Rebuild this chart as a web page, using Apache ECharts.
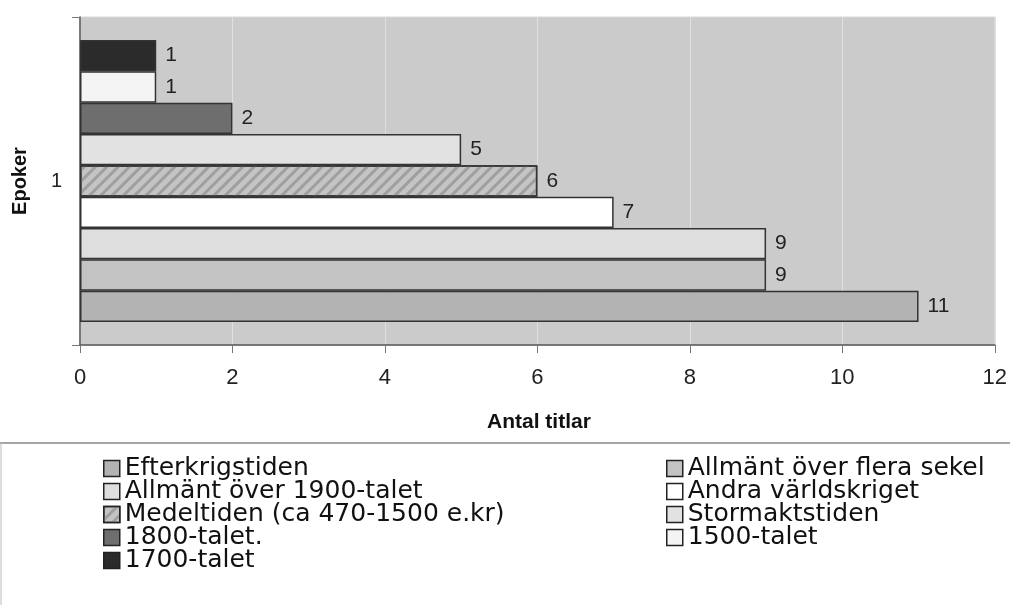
<!DOCTYPE html>
<html><head><meta charset="utf-8">
<script src="https://cdn.jsdelivr.net/npm/echarts@6/dist/echarts.min.js"></script>
<style>html,body{margin:0;padding:0;background:#fff}#c{width:1010px;height:605px}</style>
</head><body><div id="c"></div>
<script>
const categories = ['1'];
const seriesNames = ['Efterkrigstiden','Allmänt över flera sekel','Allmänt över 1900-talet','Andra världskriget','Medeltiden (ca 470-1500 e.kr)','Stormaktstiden','1800-talet.','1500-talet','1700-talet'];
const seriesValues = [11, 9, 9, 7, 6, 5, 2, 1, 1];
const seriesColors = ['#b3b3b3','#c3c3c3','#dedede','#ffffff','#c4c4c4','#e2e2e2','#6e6e6e','#f4f4f4','#2b2b2b'];
const xTicks = [0, 2, 4, 6, 8, 10, 12];
const legendLeft = ['Efterkrigstiden','Allmänt över 1900-talet','Medeltiden (ca 470-1500 e.kr)','1800-talet.','1700-talet'];
const legendRight = ['Allmänt över flera sekel','Andra världskriget','Stormaktstiden','1500-talet'];
const xAxisTitle = 'Antal titlar';

const chart = echarts.init(document.getElementById('c'));
const font = 'Liberation Sans, Arial, sans-serif';
const series = seriesNames.map((n, i) => ({
  name: n, type: 'bar', data: [seriesValues[i]],
  barGap: '0%', barCategoryGap: '14%',
  itemStyle: Object.assign({color: seriesColors[i], borderColor: '#333', borderWidth: 1.5},
    i === 4 ? {decal: {symbol: 'rect', dashArrayX: [1, 0], dashArrayY: [3, 5], rotation: -Math.PI / 4, color: 'rgba(150,150,150,0.8)'}} : {}),
  label: {show: true, position: 'right', distance: 9, fontFamily: font, fontSize: 21, color: '#222'}
})).reverse();
const legendCommon = {orient: 'vertical', icon: 'rect', itemWidth: 16, itemHeight: 16, itemGap: -2,
  textStyle: {fontFamily: 'DejaVu Sans, sans-serif', fontSize: 25, lineHeight: 23, color: '#111'},
  itemStyle: {borderColor: '#222', borderWidth: 1.5}, selectedMode: false};
chart.setOption({
  animation: false,
  grid: {left: 80, right: 13, top: 17, bottom: 260, backgroundColor: '#cbcbcb', show: true, borderColor: '#d8d8d8', borderWidth: 1},
  xAxis: {type: 'value', min: 0, max: 12, interval: 2,
    axisLine: {show: true, lineStyle: {color: '#555', width: 1.5}},
    axisTick: {show: true, length: 8, lineStyle: {color: '#777'}},
    axisLabel: {fontFamily: font, fontSize: 22, color: '#222', margin: 22,
      formatter: v => xTicks.includes(v) ? String(v) : ''},
    splitLine: {show: true, lineStyle: {color: '#e0e0e0', width: 1}}},
  yAxis: {type: 'category', data: categories,
    name: 'Epoker', nameLocation: 'middle', nameGap: 50, nameRotate: 90,
    nameTextStyle: {fontFamily: font, fontSize: 20, fontWeight: 'bold', color: '#111'},
    axisLine: {show: true, lineStyle: {color: '#555', width: 1.5}},
    axisTick: {show: true, length: 8, alignWithLabel: false, lineStyle: {color: '#777'}},
    axisLabel: {fontFamily: font, fontSize: 20, color: '#222', margin: 18}},
  legend: [
    Object.assign({}, legendCommon, {data: legendLeft, left: 98, top: 451}),
    Object.assign({}, legendCommon, {data: legendRight, left: 661, top: 451})
  ],
  graphic: [
    {type: 'text', left: 487, top: 412, style: {text: xAxisTitle, font: 'bold 21px Liberation Sans, Arial, sans-serif', fill: '#111'}},
    {type: 'line', shape: {x1: 0, y1: 443, x2: 1010, y2: 443}, style: {stroke: '#888', lineWidth: 1.5}},
    {type: 'line', shape: {x1: 1, y1: 443, x2: 1, y2: 605}, style: {stroke: '#bbb', lineWidth: 1}}
  ],
  series: series
});
</script></body></html>
